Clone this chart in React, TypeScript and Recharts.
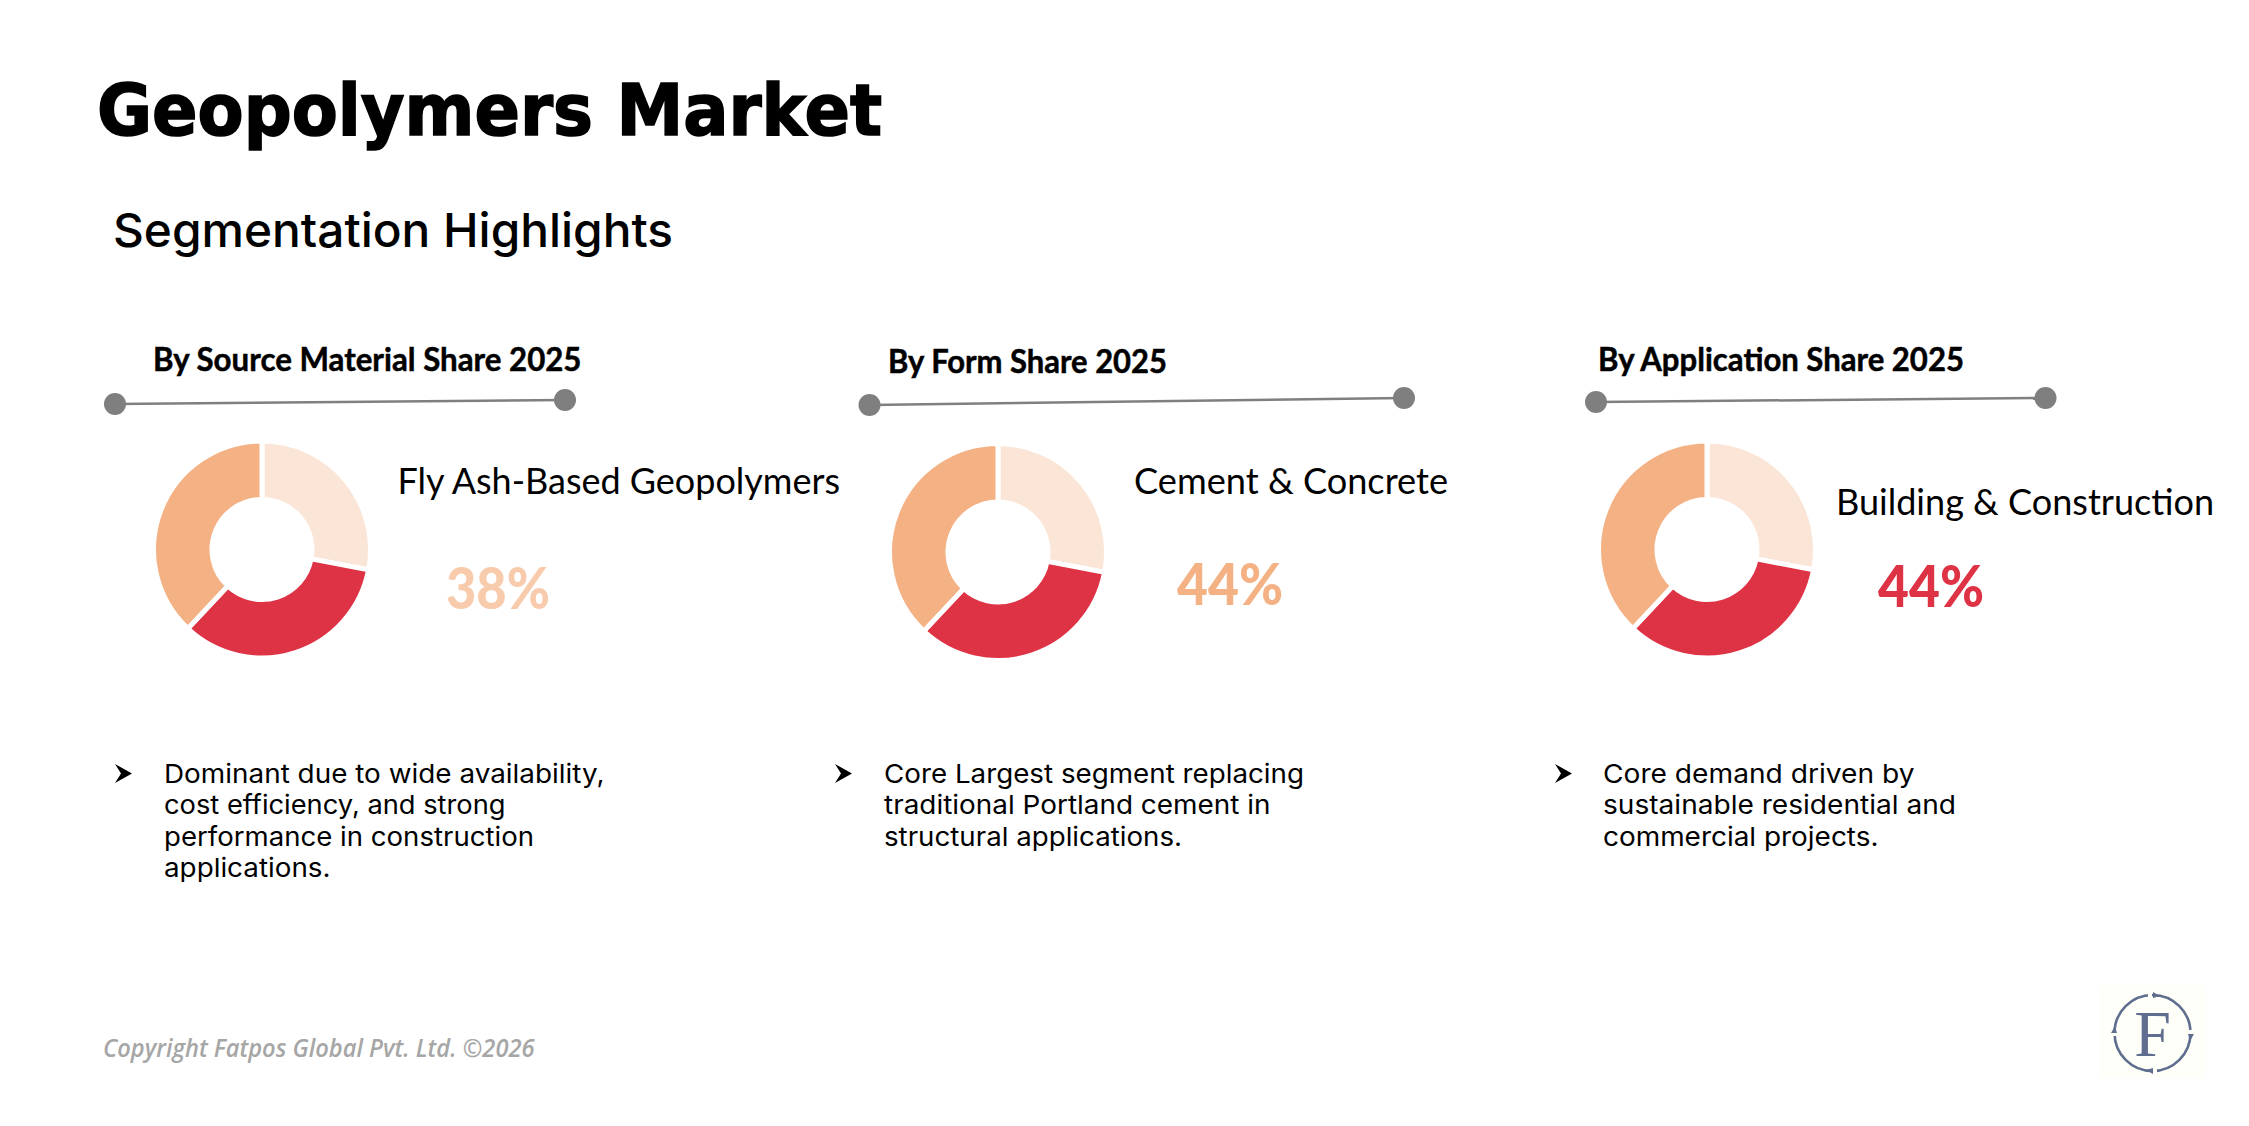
import React from "react";
import { PieChart, Pie, Cell } from "recharts";

const W = 2249;
const H = 1126;

const sliceNames = ["Other Segment", "Second Segment", "Leading Segment"];
const sourceShares = [28, 34, 38];
const formShares = [28, 34, 38];
const applicationShares = [28, 34, 38];
const sliceColors = ["#fbe5d6", "#de3245", "#f4b183"];

const toRows = (values: number[]) => values.map((value, i) => ({ name: sliceNames[i], value }));

const panels = [
  {
    key: "source",
    rows: toRows(sourceShares),
    cx: 262, cy: 549.5,
    heading: "By Source Material Share 2025", hx: 153, hEnd: 581.5, hy: 371,
    dots: [115, 404, 565, 400],
    label: "Fly Ash-Based Geopolymers", lx: 397.5, lEnd: 840, ly: 494,
    pct: "38%", px: 446, pEnd: 550, py: 609, pColor: "#f8cbad",
    arrowX: 115, tx: 164,
    lines: [["Dominant due to wide availability,", 604.5], ["cost efficiency, and strong", 505.5], ["performance in construction", 534], ["applications.", 330.5]],
  },
  {
    key: "form",
    rows: toRows(formShares),
    cx: 998, cy: 552,
    heading: "By Form Share 2025", hx: 888, hEnd: 1167, hy: 373,
    dots: [869.5, 405, 1404, 398],
    label: "Cement & Concrete", lx: 1134, lEnd: 1448, ly: 494,
    pct: "44%", px: 1177, pEnd: 1283, py: 605, pColor: "#f4b183",
    arrowX: 835, tx: 884,
    lines: [["Core Largest segment replacing", 1304], ["traditional Portland cement in", 1270.5], ["structural applications.", 1182]],
  },
  {
    key: "application",
    rows: toRows(applicationShares),
    cx: 1707, cy: 549.5,
    heading: "By Application Share 2025", hx: 1598, hEnd: 1964, hy: 371,
    dots: [1596, 402, 2045.5, 398],
    label: "Building & Construction", lx: 1836, lEnd: 2214, ly: 515,
    pct: "44%", px: 1878, pEnd: 1984, py: 607, pColor: "#de3245",
    arrowX: 1555, tx: 1603,
    lines: [["Core demand driven by", 1914.5], ["sustainable residential and", 1956], ["commercial projects.", 1878.5]],
  },
];

const lineBaselines = [783, 814, 846, 877];

function Fit({ x, end, y, size, family, weight, color, style, thick, children }: any) {
  return (
    <text x={x} y={y} textLength={end - x} lengthAdjust="spacingAndGlyphs" fontSize={size}
      fontFamily={family} fontWeight={weight} fill={color} fontStyle={style}
      stroke={thick ? color : "none"} strokeWidth={thick || 0}>
      {children}
    </text>
  );
}

export default function App() {
  return (
    <div style={{ position: "absolute", left: 0, top: 0, width: W, height: H, background: "#fff", overflow: "hidden" }}>
      <div style={{ position: "absolute", left: 0, top: 0 }}>
        <PieChart width={W} height={H} margin={{ top: 0, right: 0, bottom: 0, left: 0 }}>
          {panels.map((p) => (
            <Pie key={p.key} data={p.rows} dataKey="value" nameKey="name" cx={p.cx} cy={p.cy}
              innerRadius={50} outerRadius={108.5} startAngle={90} endAngle={-270}
              stroke="#ffffff" strokeWidth={5} isAnimationActive={false} label={false} labelLine={false}>
              {p.rows.map((r, i) => (
                <Cell key={r.name} fill={sliceColors[i]} />
              ))}
            </Pie>
          ))}
        </PieChart>
      </div>
      <svg width={W} height={H} style={{ position: "absolute", left: 0, top: 0 }}>
        <Fit x={97} end={882} y={135} size={71} family="'DejaVu Sans'" weight={700} color="#000" thick={1.6}>Geopolymers Market</Fit>
        <Fit x={113} end={673} y={247} size={47} family="Inter, 'Open Sans'" weight={500} color="#000">Segmentation Highlights</Fit>
        {panels.map((p) => (
          <g key={p.key}>
            <Fit x={p.hx} end={p.hEnd} y={p.hy} size={33} family="Lato" weight={700} color="#000" thick={0.5}>{p.heading}</Fit>
            <line x1={p.dots[0]} y1={p.dots[1]} x2={p.dots[2]} y2={p.dots[3]} stroke="#7f7f7f" strokeWidth={2.5} />
            <circle cx={p.dots[0]} cy={p.dots[1]} r={11} fill="#7f7f7f" />
            <circle cx={p.dots[2]} cy={p.dots[3]} r={11} fill="#7f7f7f" />
            <Fit x={p.lx} end={p.lEnd} y={p.ly} size={37} family="Lato" weight={400} color="#000">{p.label}</Fit>
            <Fit x={p.px} end={p.pEnd} y={p.py} size={58} family="Lato" weight={900} color={p.pColor}>{p.pct}</Fit>
            <path transform={`translate(${p.arrowX} 764)`} d="M0 0 L17 9.5 L0 19 L6 9.5 Z" fill="#000" />
            {p.lines.map(([t, end], i) => (
              <Fit key={i} x={p.tx} end={end} y={lineBaselines[i]} size={26} family="Inter, 'Open Sans'" weight={400} color="#000">{t}</Fit>
            ))}
          </g>
        ))}
        <Fit x={103} end={534.5} y={1057} size={25} family="'Open Sans'" weight={600} style="italic" color="#a6a6a6">Copyright Fatpos Global Pvt. Ltd. ©2026</Fit>
        <g>
          <rect x={2100} y={985} width={105} height={93} fill="#fffffa" />
          <circle cx={2152.5} cy={1033} r={38} fill="none" stroke="#5f6d8e" strokeWidth={2.6} />
          <rect x={2148} y={990} width={4} height={7} fill="#fffffa" />
          <rect x={2153} y={1069} width={4} height={7} fill="#fffffa" />
          <rect x={2111} y={1032} width={7} height={4} fill="#fffffa" />
          <rect x={2187} y={1030} width={7} height={4} fill="#fffffa" />
          <path d="M2153 992 L2153 998 L2160 996 Z M2153 1074 L2153 1068 L2146 1070 Z M2111 1033 L2117 1033 L2115 1026 Z M2194 1034 L2188 1034 L2190 1041 Z" fill="#5f6d8e" />
          <text x={2152.5} y={1056} textAnchor="middle" fontSize={66} fontFamily="'Liberation Serif'" fill="#5f6d8e">F</text>
        </g>
      </svg>
    </div>
  );
}
